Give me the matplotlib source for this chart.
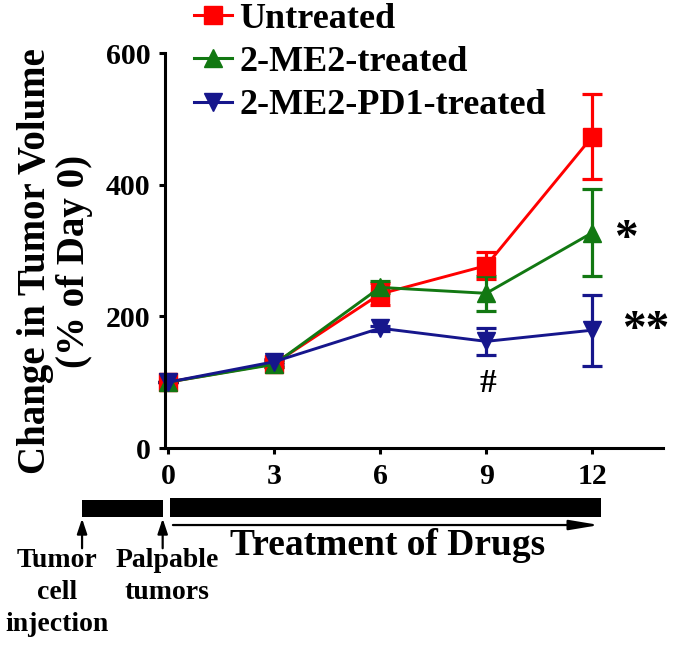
"""
Tumor volume change over the treatment period, with the injection / treatment timeline below the axis.
"""

import matplotlib

matplotlib.use("Agg")
import matplotlib.pyplot as plt
from matplotlib.lines import Line2D
from matplotlib.transforms import blended_transform_factory

days = [0, 3, 6, 9, 12]

series_names = ["Untreated", "2-ME2-treated", "2-ME2-PD1-treated"]
untreated_mean = [100, 128, 234, 277, 473]
untreated_err = [0, 5, 16, 21, 65]
me2_mean = [100, 127, 244, 235, 327]
me2_err = [0, 4, 9, 27, 66]
pd1_mean = [100, 131, 182, 162, 179]
pd1_err = [0, 4, 4, 20, 54]

y_ticks = [0, 200, 400, 600]

# significance marks: (day, value, text)
marks = [(12.95, 316, "*"), (13.5, 178, "**"), (9.05, 98, "#")]

# timeline (in days)
injection_day = -2.43
palpable_day = -0.15
treatment_end = 12.25

FONT = "Liberation Serif"


def main():
    plt.rcParams["font.family"] = FONT
    plt.rcParams["font.weight"] = "bold"

    fig = plt.figure(figsize=(6.75, 6.45), dpi=100)
    ax = fig.add_axes([0.2444, 0.3054, 0.7378, 0.6124])

    colors = ["#ff0000", "#127812", "#16168c"]
    markers = ["s", "^", "v"]
    means = [untreated_mean, me2_mean, pd1_mean]
    errs = [untreated_err, me2_err, pd1_err]

    for mean, err, color, marker in zip(means, errs, colors, markers):
        ax.errorbar(
            days, mean, yerr=err, color=color, marker=marker, markersize=13,
            linewidth=2.1, elinewidth=2.3, capsize=7, capthick=2.3,
            clip_on=False,
        )

    ax.set_xlim(-0.085, 14)
    ax.set_ylim(0, 600)
    ax.set_xticks(days)
    ax.set_yticks(y_ticks)
    for side in ["top", "right"]:
        ax.spines[side].set_visible(False)
    for side in ["left", "bottom"]:
        ax.spines[side].set_linewidth(2.2)
    ax.tick_params(width=2.2, length=4.5, labelsize=21.5, direction="out")
    ax.tick_params(axis="y", pad=6)
    ax.tick_params(axis="x", pad=6)
    for label in ax.get_xticklabels() + ax.get_yticklabels():
        label.set_fontweight("bold")

    fig.text(
        0.082, 0.595, "Change in Tumor Volume\n(% of Day 0)", rotation=90,
        ha="center", va="center", fontsize=28, fontweight="bold",
        multialignment="center", linespacing=1.08,
    )

    for x, y, s in marks:
        ax.text(x, y, s, ha="center", va="center", fontsize=34 if s != "#" else 24,
                fontweight="bold")

    handles = [
        Line2D([], [], color=c, marker=m, markersize=13, linewidth=2.2)
        for c, m in zip(colors, markers)
    ]
    fig.legend(
        handles, series_names, loc="upper left", bbox_to_anchor=(0.282, 1.002),
        frameon=False, handlelength=1.05, handletextpad=0.2,
        labelspacing=0.28, borderpad=0.1, borderaxespad=0, numpoints=1,
        prop={"family": FONT, "weight": "bold", "size": 26},
    )

    # timeline below the x axis
    tr = blended_transform_factory(ax.transData, fig.transFigure)
    bar_lo, bar_hi = 0.198, 0.225
    ax.fill_between([injection_day, palpable_day], bar_lo, bar_hi, color="black",
                    transform=tr, clip_on=False, linewidth=0)
    ax.fill_between([0.06, treatment_end], bar_lo, bar_hi + 0.003, color="black",
                    transform=tr, clip_on=False, linewidth=0)
    ax.annotate(
        "", xy=(12.2, 0.186), xytext=(0.14, 0.186), xycoords=tr, textcoords=tr,
        arrowprops=dict(arrowstyle="-|>,head_length=1.8,head_width=0.3",
                        color="black", lw=1.6, shrinkA=0, shrinkB=0),
        annotation_clip=False,
    )
    for d in [injection_day, palpable_day]:
        ax.annotate(
            "", xy=(d, 0.196), xytext=(d, 0.150), xycoords=tr, textcoords=tr,
            arrowprops=dict(arrowstyle="-|>,head_length=0.9,head_width=0.3",
                            color="black", lw=1.6, shrinkA=0, shrinkB=0),
            annotation_clip=False,
        )
    ax.text(6.2, 0.155, "Treatment of Drugs", transform=tr, ha="center",
            va="center", fontsize=27, fontweight="bold")
    ax.text(-3.13, 0.081, "Tumor\ncell\ninjection", transform=tr, ha="center",
            va="center", fontsize=20, fontweight="bold", linespacing=1.38)
    ax.text(-0.03, 0.106, "Palpable\ntumors", transform=tr, ha="center",
            va="center", fontsize=20, fontweight="bold", linespacing=1.38)

    fig.savefig("out.png", dpi=100)


if __name__ == "__main__":
    main()
